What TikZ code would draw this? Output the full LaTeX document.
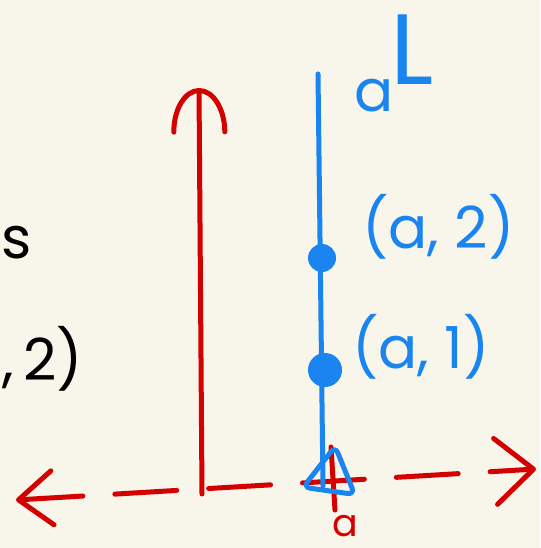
\documentclass[tikz,border=0pt]{standalone}
\usepackage{fontspec}
\setmainfont{Poppins}
\usetikzlibrary{arrows.meta,calc,shapes.geometric}

\definecolor{bg}{HTML}{F8F5EA}
\definecolor{penred}{HTML}{D40000}
\definecolor{penblue}{HTML}{1A84F0}

\tikzset{
    pen/.style={line width=5pt, line cap=round, line join=round},
    hand/.style={inner sep=0pt, font=\fontsize{58}{58}\selectfont},
}

\begin{document}
\begin{tikzpicture}[x=1pt, y=-1pt]

    \pgfmathsetmacro{\w}{540}
    \pgfmathsetmacro{\h}{548}

    % 背景
    \fill[bg] (0,0) rectangle (\w,\h);
    \clip (0,0) rectangle (\w,\h);

    % 端点
    \coordinate (xl) at (16,500);
    \coordinate (xr) at (536,469);
    \coordinate (rb) at (202,494);
    \coordinate (rt) at (199,88);
    \coordinate (bt) at (318,74);
    \coordinate (bb) at (323,486);
    \coordinate (tt) at (331,447);
    \coordinate (tb) at (335,510);

    % 赤の軸
    \draw[pen, penred, dash pattern=on 62pt off 32pt,
        {Straight Barb[length=34pt,width=54pt,round]}-{Straight Barb[length=38pt,width=66pt,round]}]
        (xl) -- (xr);
    \draw[pen, penred, -{Arc Barb[length=44pt,width=56pt,round]}] (rb) -- (rt);
    \draw[pen, penred] (tt) -- (tb);

    % 青の直線と点
    \draw[pen, penblue] (bt) -- (bb);
    \node[circle, fill=penblue, minimum size=28pt, inner sep=0pt] (p2) at (322,258) {};
    \node[circle, fill=penblue, minimum size=34pt, inner sep=0pt] (p1) at (325,370) {};
    \node[pen, draw=penblue, regular polygon, regular polygon sides=3,
        minimum size=60pt, rounded corners=7pt, rotate=-8] (q) at (331,476) {};

    % ラベル
    \node[hand, penblue, anchor=base west] (l2) at (362,248) {(a, 2)};
    \node[hand, penblue, anchor=base west] (l1) at (352,368) {(a, 1)};
    \node[hand, penblue, anchor=base west] (la) at (354,112) {a};
    \node[inner sep=0pt, penblue, anchor=base west, font=\fontsize{100}{100}\selectfont] (lL) at (390,85) {L};
    \node[inner sep=0pt, penred, anchor=base, font=\fontsize{38}{38}\selectfont] (lx) at (345,536) {a};
    \node[hand, anchor=base west] (ls) at (1,258) {s};
    \node[hand, anchor=base west] (lp) at (2,380) {,\,2)};

\end{tikzpicture}
\end{document}
